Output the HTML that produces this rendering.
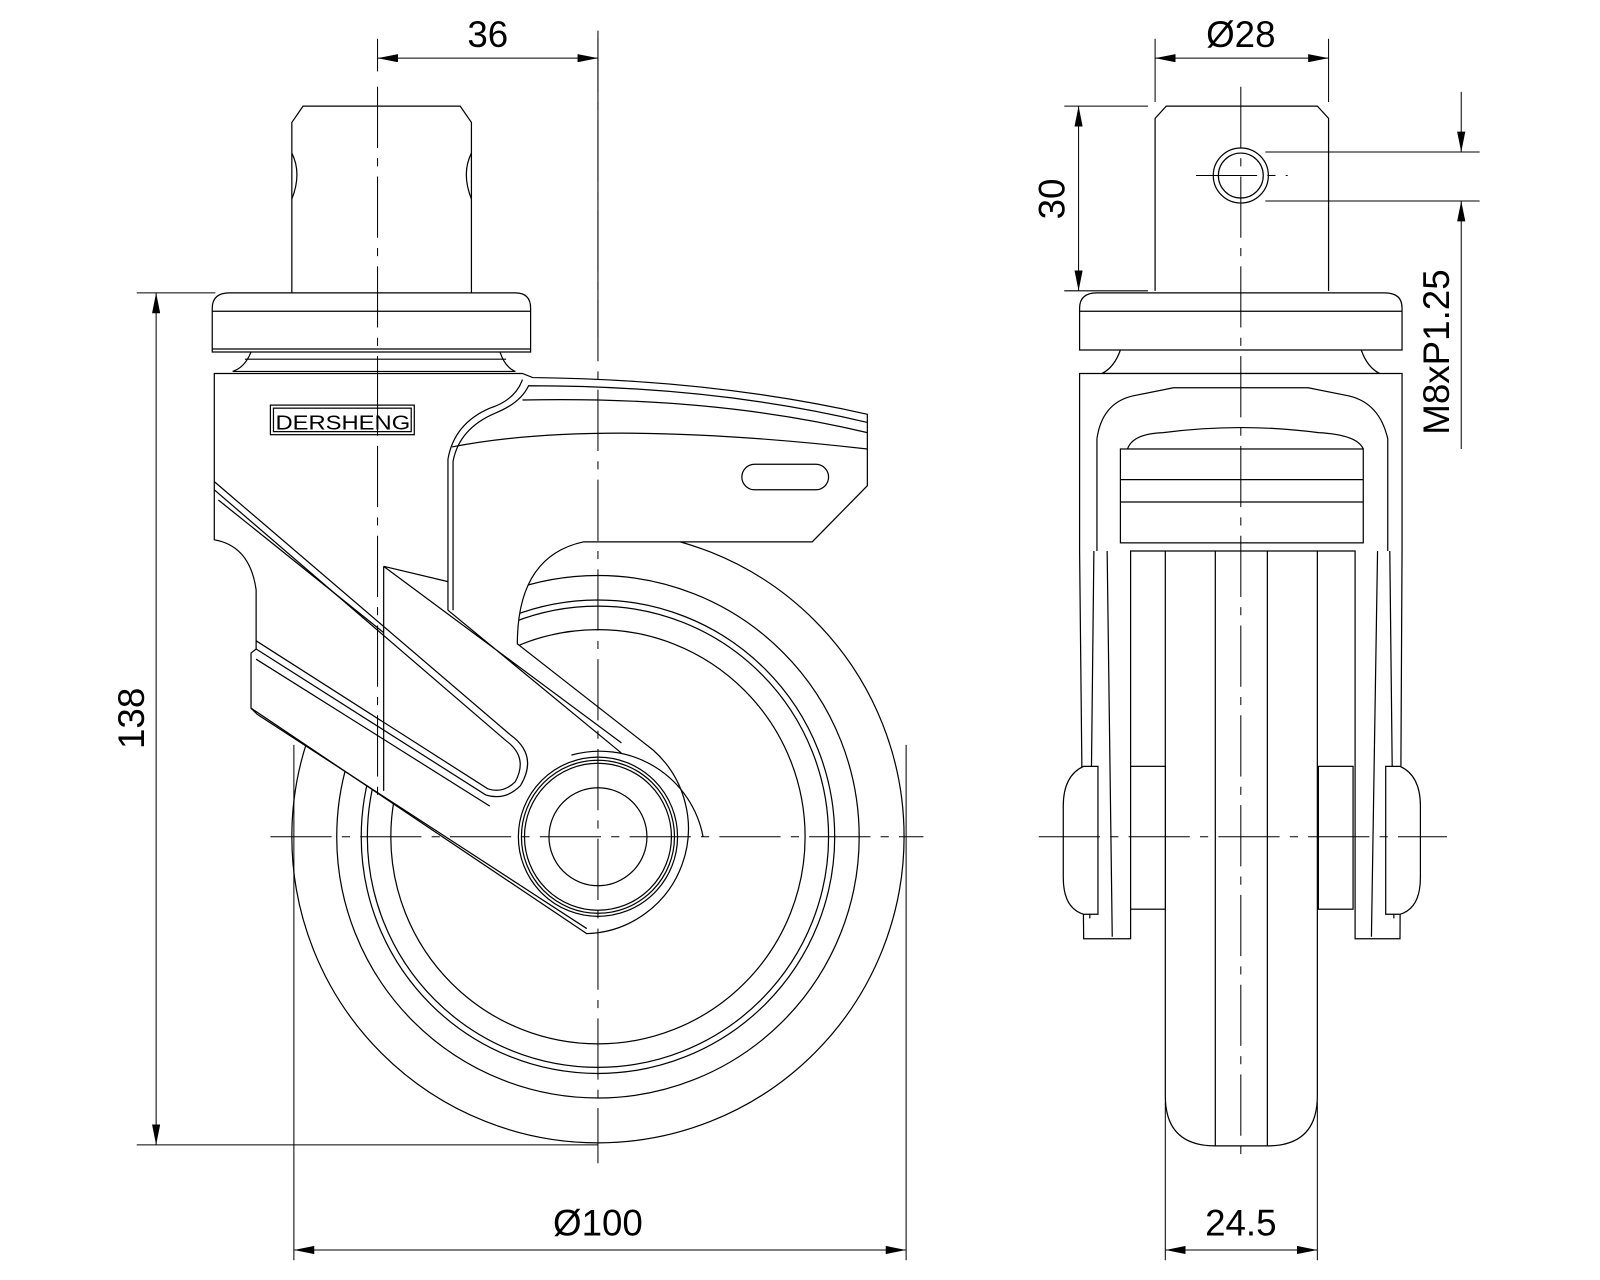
<!DOCTYPE html>
<html><head><meta charset="utf-8"><style>
html,body{margin:0;padding:0;background:#fff;}
svg{display:block;}
text{font-family:"Liberation Sans",sans-serif;fill:#000;}
</style></head><body>
<svg width="1600" height="1280" viewBox="0 0 1568 1254.4" xmlns="http://www.w3.org/2000/svg">
<defs>
<marker id="a" viewBox="0 0 20 8" refX="20" refY="4" markerWidth="20" markerHeight="8" markerUnits="userSpaceOnUse" orient="auto-start-reverse"><path d="M0,0 L20,4 L0,8 Z" fill="#000"/></marker>
</defs>
<g fill="none" stroke="#000" stroke-width="1.2">
<!-- ===== LEFT VIEW ===== -->
<!-- wheel -->
<circle cx="586" cy="820" r="300"/>
<circle cx="586" cy="820" r="256"/>
<circle cx="586" cy="820" r="232"/>
<circle cx="586" cy="820" r="226"/>
<circle cx="586" cy="820" r="203"/>
<!-- stem -->
<path d="M286,287 V120 L297,104 H451 L462,120 V287" fill="#fff"/>
<path d="M286,150 Q296,170 286,195 M462,150 Q452,170 462,195"/>
<!-- plate -->
<path d="M208,345 V302 Q208,287 225,287 H505 Q520,287 520,302 V345 Z" fill="#fff"/>
<line x1="208" y1="305" x2="520" y2="305"/>
<line x1="208" y1="342" x2="520" y2="342"/>
<path d="M246,345 Q240,360 228,364 H505 Q495,360 490,345"/>
<line x1="240" y1="352" x2="496" y2="352"/>
<!-- body / fork -->
<path d="M210,366 H512 L522,370 Q700,372 850,406 V476 L796,531 H572 Q507,545 507,631 L640,735 A103,103 0 0 1 575,915 L246,694 V640 L251,636 V578 Q245,535 210,529 Z" fill="#fff"/>
<!-- upper arm band -->
<path d="M210,472 L500,720 Q528,740 510,770 Q495,785 476,779 L251,636"/>
<path d="M210,480 L496,726 Q518,742 505,766 Q493,778 478,773 L251,628"/>
<path d="M214,490 L376,620"/>
<!-- lower arm lines -->
<path d="M251,646 L480,790 M246,694 L252,700 L575,910"/>
<!-- triangle / vertical -->
<path d="M376,555 V775 M376,555 L439,570 M376,555 L609,728 M439,598 L609,738"/>
<!-- pedal -->
<path d="M439,598 V450 Q445,415 480,400 Q505,392 512,372"/>
<path d="M444,598 V452 Q450,420 485,405 Q510,395 518,378 Q700,378 850,414"/>
<path d="M443,438 Q585,410 850,440"/>
<path d="M512,392 Q700,388 850,424"/>
<rect x="727" y="455" width="85" height="25" rx="12.5"/>
<!-- logo -->
<rect x="265" y="397" width="141" height="29"/>
<rect x="268" y="400" width="135" height="23"/>
<!-- hub -->
<path d="M560,740 A103,103 0 0 1 689,820" />
<circle cx="586" cy="820" r="78" fill="#fff"/>
<circle cx="586" cy="820" r="75"/>
<circle cx="586" cy="820" r="72"/>
<circle cx="586" cy="820" r="48"/>

<!-- ===== RIGHT VIEW ===== -->
<!-- tire -->
<path d="M1142,535 V1074 Q1142,1123 1191,1123 H1242 Q1291,1123 1291,1074 V535" fill="#fff"/>
<line x1="1191" y1="535" x2="1191" y2="1123"/>
<line x1="1242" y1="535" x2="1242" y2="1123"/>
<!-- stem -->
<path d="M1132,285 V116 L1143,104 H1291 L1302,116 V285" fill="#fff"/>
<circle cx="1216" cy="172" r="27"/>
<circle cx="1216" cy="172" r="22"/>
<!-- plate -->
<path d="M1058,343 V302 Q1058,287 1075,287 H1357 Q1374,287 1374,302 V343 Z" fill="#fff"/>
<line x1="1058" y1="305" x2="1374" y2="305"/>
<path d="M1098,343 Q1092,360 1080,366 H1352 Q1340,360 1334,343"/>
<!-- body -->
<path d="M1058,366 H1374 V540 L1372,920 H1328 V540 H1108 V920 H1062 L1058,540 Z" fill="#fff"/>
<path d="M1072,540 L1068,900 M1362,540 L1366,900"/>
<path d="M1085,540 L1090,918 M1350,540 L1344,918"/>
<path d="M1075,430 Q1080,395 1110,388 L1150,380 H1282 L1322,388 Q1352,395 1360,430 V540"/>
<path d="M1075,430 V540"/>
<rect x="1098" y="440" width="238" height="92"/>
<path d="M1098,470 H1336 M1098,492 H1336"/>
<path d="M1105,440 Q1110,425 1140,424 Q1216,414 1292,424 Q1330,426 1336,440"/>
<!-- hub discs -->
<rect x="1108" y="751" width="34" height="140" fill="#fff"/>
<rect x="1292" y="751" width="34" height="140" fill="#fff"/>
<!-- axle caps -->
<path d="M1076,751 H1062 Q1042,760 1042,790 V860 Q1042,890 1062,896 H1076 Z" fill="#fff"/>
<path d="M1358,751 H1372 Q1392,760 1392,790 V860 Q1392,890 1372,896 H1358 Z" fill="#fff"/>
</g>

<!-- center lines -->
<g stroke="#000" stroke-width="1" fill="none" stroke-dasharray="60,10,8,10">
<line x1="586" y1="30" x2="586" y2="1140"/>
<line x1="370" y1="85" x2="370" y2="780"/>
<line x1="265" y1="820" x2="905" y2="820"/>
<line x1="1216" y1="85" x2="1216" y2="1140"/>
<line x1="1018" y1="820" x2="1418" y2="820"/>
<line x1="1172" y1="172" x2="1262" y2="172"/>
</g>

<!-- dimensions -->
<g stroke="#000" stroke-width="1" fill="none">
<line x1="370" y1="38" x2="370" y2="70"/>
<line x1="586" y1="38" x2="586" y2="330"/>
<line x1="370" y1="57" x2="586" y2="57" marker-start="url(#a)" marker-end="url(#a)"/>
<line x1="1132" y1="38" x2="1132" y2="100"/>
<line x1="1302" y1="38" x2="1302" y2="100"/>
<line x1="1132" y1="57" x2="1302" y2="57" marker-start="url(#a)" marker-end="url(#a)"/>
<line x1="1043" y1="104" x2="1125" y2="104"/>
<line x1="1043" y1="285" x2="1125" y2="285"/>
<line x1="1057" y1="104" x2="1057" y2="285" marker-start="url(#a)" marker-end="url(#a)"/>
<line x1="1240" y1="149" x2="1450" y2="149"/>
<line x1="1240" y1="197" x2="1450" y2="197"/>
<line x1="1432" y1="90" x2="1432" y2="149" marker-end="url(#a)"/>
<line x1="1432" y1="440" x2="1432" y2="197" marker-end="url(#a)"/>
<line x1="134" y1="287" x2="211" y2="287"/>
<line x1="134" y1="1122" x2="586" y2="1122"/>
<line x1="153" y1="287" x2="153" y2="1122" marker-start="url(#a)" marker-end="url(#a)"/>
<line x1="288" y1="730" x2="288" y2="1235"/>
<line x1="888" y1="730" x2="888" y2="1235"/>
<line x1="288" y1="1225" x2="888" y2="1225" marker-start="url(#a)" marker-end="url(#a)"/>
<line x1="1142" y1="1080" x2="1142" y2="1235"/>
<line x1="1291" y1="1080" x2="1291" y2="1235"/>
<line x1="1142" y1="1225" x2="1291" y2="1225" marker-start="url(#a)" marker-end="url(#a)"/>
</g>

<g font-size="36" text-anchor="middle">
<text x="478" y="46">36</text>
<text x="1216" y="46">Ø28</text>
<text x="586" y="1211">Ø100</text>
<text x="1216" y="1211">24.5</text>
<text transform="translate(1043,195) rotate(-90)">30</text>
<text transform="translate(141,704) rotate(-90)">138</text>
<text transform="translate(1420,345) rotate(-90)">M8xP1.25</text>
</g>
<text x="270" y="421" font-size="20" textLength="132" lengthAdjust="spacingAndGlyphs">DERSHENG</text>
</svg>
</body></html>
